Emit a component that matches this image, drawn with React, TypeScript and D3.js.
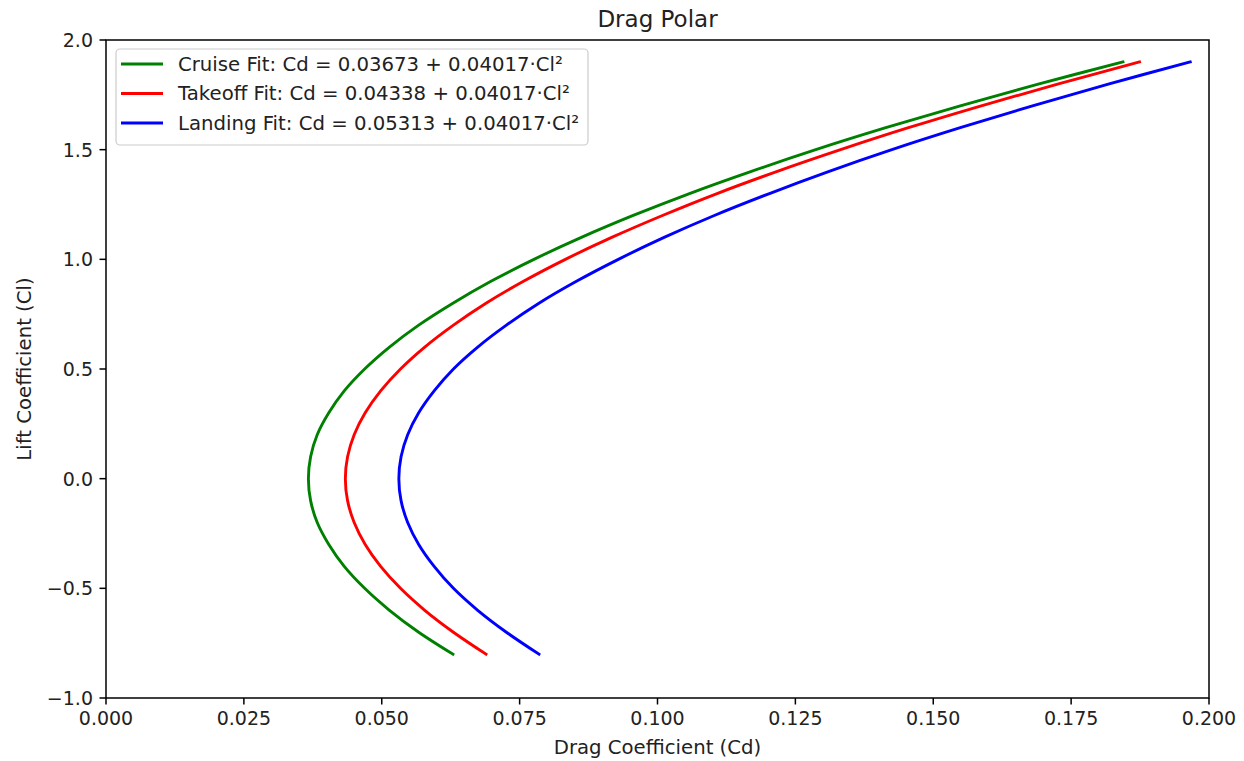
import React from "react";
import * as d3 from "d3";

const liftCoeff = [-0.8, -0.7, -0.6, -0.5, -0.4, -0.3, -0.2, -0.1, 0.0, 0.1, 0.2, 0.3, 0.4, 0.5, 0.6, 0.7, 0.8, 0.9, 1.0, 1.1, 1.2, 1.3, 1.4, 1.5, 1.6, 1.7, 1.8, 1.9];

const cruiseCd = [0.0629, 0.0567, 0.0514, 0.0469, 0.0432, 0.0404, 0.0383, 0.0371, 0.0367, 0.0371, 0.0383, 0.0404, 0.0432, 0.0469, 0.0514, 0.0567, 0.0629, 0.0698, 0.0776, 0.0862, 0.0956, 0.1058, 0.1169, 0.1287, 0.1414, 0.1549, 0.1692, 0.1844];
const takeoffCd = [0.0689, 0.0630, 0.0578, 0.0534, 0.0498, 0.0470, 0.0450, 0.0438, 0.0434, 0.0438, 0.0450, 0.0470, 0.0498, 0.0534, 0.0578, 0.0630, 0.0689, 0.0757, 0.0833, 0.0917, 0.1009, 0.1108, 0.1216, 0.1332, 0.1455, 0.1587, 0.1727, 0.1874];
const landingCd = [0.0785, 0.0726, 0.0674, 0.0630, 0.0595, 0.0567, 0.0547, 0.0535, 0.0531, 0.0535, 0.0547, 0.0567, 0.0595, 0.0630, 0.0674, 0.0726, 0.0785, 0.0853, 0.0929, 0.1012, 0.1103, 0.1203, 0.1310, 0.1425, 0.1549, 0.1680, 0.1819, 0.1966];

const seriesNames = [
  "Cruise Fit: Cd = 0.03673 + 0.04017·Cl²",
  "Takeoff Fit: Cd = 0.04338 + 0.04017·Cl²",
  "Landing Fit: Cd = 0.05313 + 0.04017·Cl²",
];
const seriesColors = ["green", "red", "blue"];
const seriesValues = [cruiseCd, takeoffCd, landingCd];

const xTicks = [0.0, 0.025, 0.05, 0.075, 0.1, 0.125, 0.15, 0.175, 0.2];
const yTicks = [-1.0, -0.5, 0.0, 0.5, 1.0, 1.5, 2.0];

const W = 1244;
const H = 761;
const left = 106;
const right = 1209;
const top = 40;
const bottom = 698;
const FONT = "DejaVu Sans, sans-serif";
const fs = 19;
const fsLab = 19.7;

export default function App() {
  const x = d3.scaleLinear().domain([0, 0.2]).range([left, right]);
  const y = d3.scaleLinear().domain([-1, 2]).range([bottom, top]);
  const line = d3
    .line<[number, number]>()
    .x((d) => x(d[0]))
    .y((d) => y(d[1]))
    .curve(d3.curveCatmullRom.alpha(0.5));

  const legX = 116;
  const legY = 49;
  const legW = 472;
  const legH = 96;
  const rowY = [64, 93.5, 123];

  return (
    <svg
      width={W}
      height={H}
      style={{ position: "absolute", left: 0, top: 0, background: "white" }}
      fontFamily={FONT}
    >
      <rect x={0} y={0} width={W} height={H} fill="white" />
      <defs>
        <clipPath id="plotclip">
          <rect x={left} y={top} width={right - left} height={bottom - top} />
        </clipPath>
      </defs>
      <g clipPath="url(#plotclip)">
        {seriesValues.map((vals, i) => (
          <path
            key={i}
            d={line(vals.map((v, j) => [v, liftCoeff[j]] as [number, number])) || ""}
            fill="none"
            stroke={seriesColors[i]}
            strokeWidth={2.9}
            strokeLinecap="square"
            strokeLinejoin="round"
          />
        ))}
      </g>
      <rect
        x={left}
        y={top}
        width={right - left}
        height={bottom - top}
        fill="none"
        stroke="black"
        strokeWidth={1.5}
      />
      {xTicks.map((t) => (
        <g key={"x" + t}>
          <line x1={x(t)} x2={x(t)} y1={bottom} y2={bottom + 6.5} stroke="black" strokeWidth={1.5} />
          <text x={x(t)} y={bottom + 13} fontSize={fs} textAnchor="middle" dominantBaseline="hanging" fill="#222">
            {d3.format(".3f")(t)}
          </text>
        </g>
      ))}
      {yTicks.map((t) => (
        <g key={"y" + t}>
          <line x1={left - 6.5} x2={left} y1={y(t)} y2={y(t)} stroke="black" strokeWidth={1.5} />
          <text x={left - 13} y={y(t)} fontSize={fs} textAnchor="end" dominantBaseline="central" fill="#222">
            {d3.format(".1f")(t).replace("-", "−")}
          </text>
        </g>
      ))}
      <text x={(left + right) / 2} y={27} fontSize={23} textAnchor="middle" fill="#222">
        Drag Polar
      </text>
      <text x={(left + right) / 2} y={754} fontSize={fsLab} textAnchor="middle" fill="#222">
        Drag Coefficient (Cd)
      </text>
      <text
        transform={`translate(31, ${(top + bottom) / 2}) rotate(-90)`}
        fontSize={fsLab}
        textAnchor="middle"
        fill="#222"
      >
        Lift Coefficient (Cl)
      </text>
      <rect
        x={legX}
        y={legY}
        width={legW}
        height={legH}
        rx={4}
        fill="white"
        fillOpacity={0.8}
        stroke="#cccccc"
        strokeWidth={1.2}
      />
      {seriesNames.map((name, i) => (
        <g key={name}>
          <line x1={121} x2={163} y1={rowY[i]} y2={rowY[i]} stroke={seriesColors[i]} strokeWidth={2.9} />
          <text x={178} y={rowY[i]} fontSize={fsLab} dominantBaseline="central" fill="#222">
            {name}
          </text>
        </g>
      ))}
    </svg>
  );
}
